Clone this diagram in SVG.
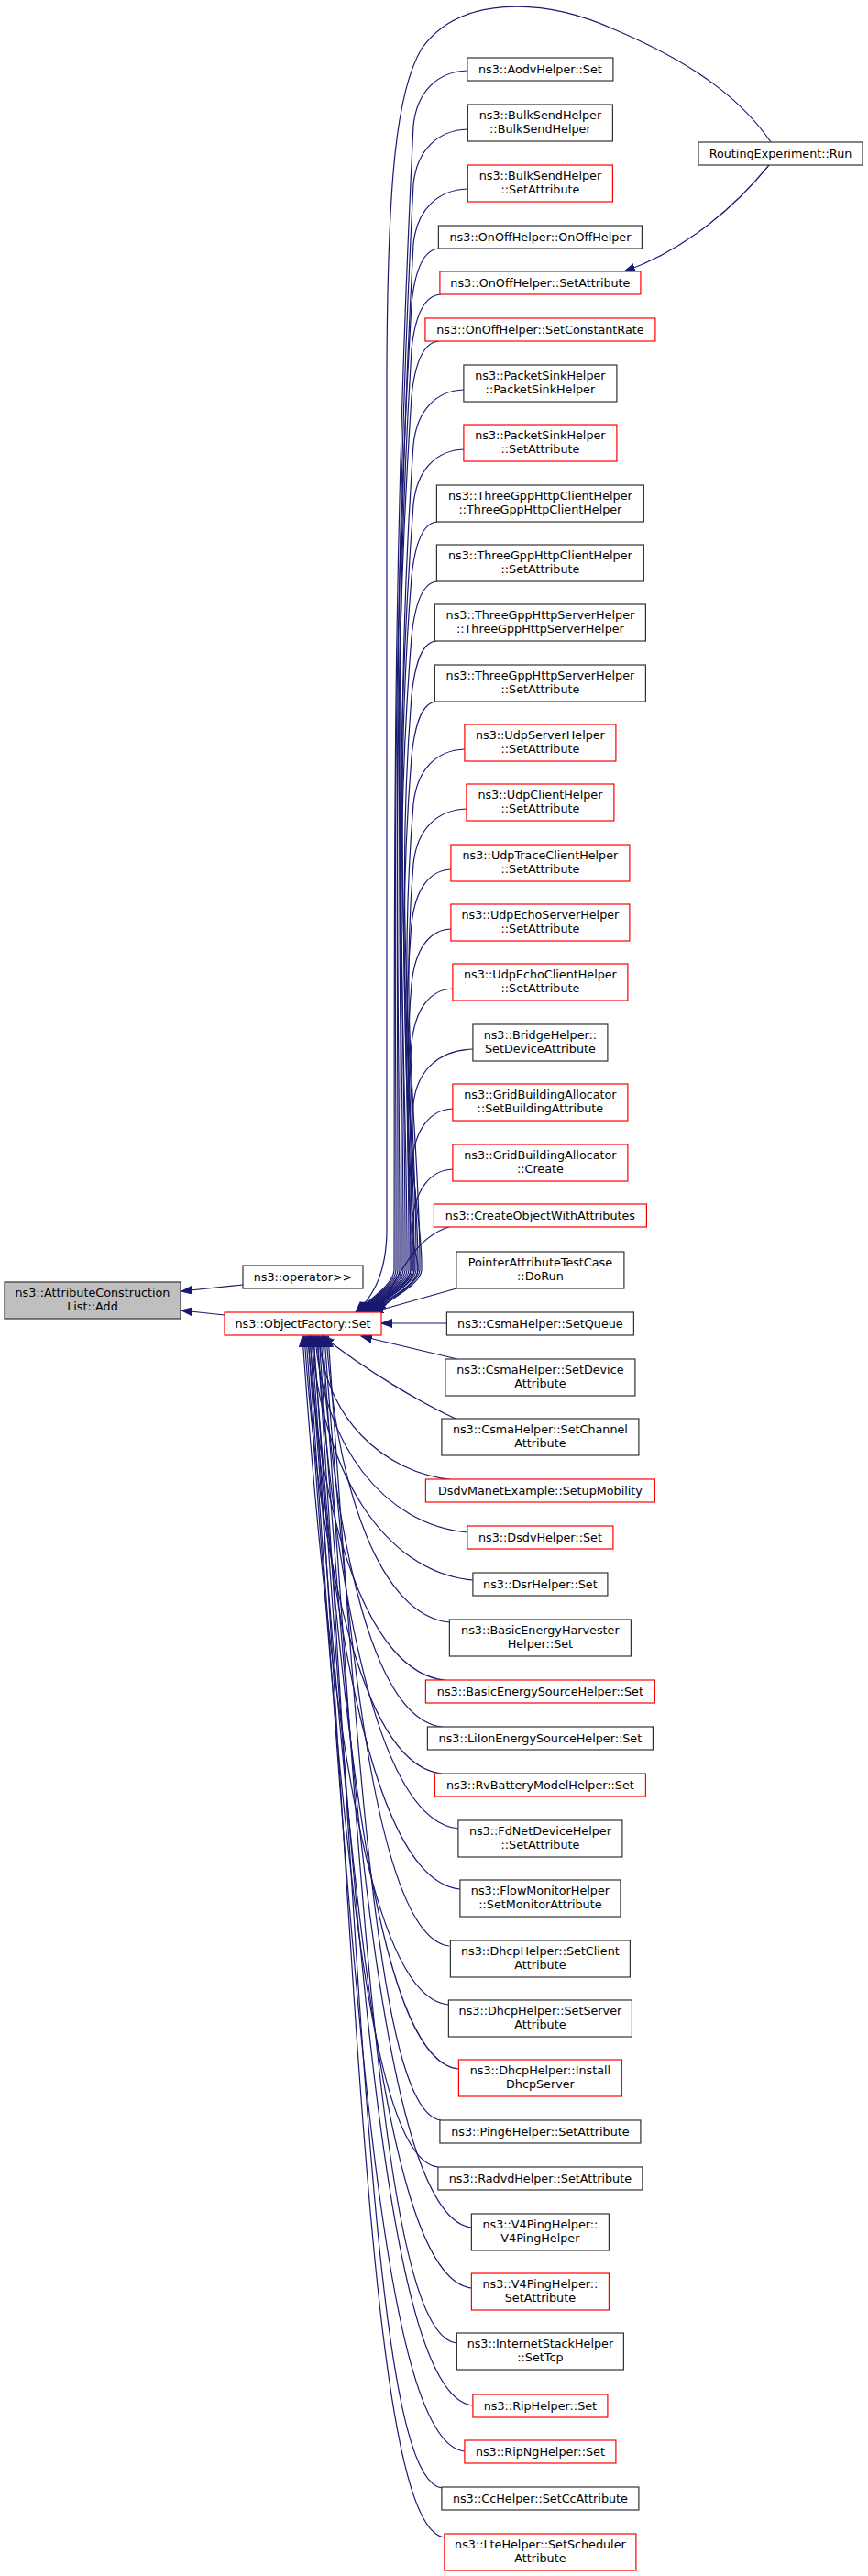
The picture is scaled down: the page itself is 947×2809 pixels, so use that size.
<svg xmlns="http://www.w3.org/2000/svg" width="947" height="2809" viewBox="0 0 947 2809">
<style>
.n rect{fill:#fff;stroke:#333;stroke-width:1.2}
.r rect{fill:#fff;stroke:#f00;stroke-width:1.2}
.g rect{fill:#bfbfbf;stroke:#333;stroke-width:1.2}
text{font-family:"DejaVu Sans",sans-serif;font-size:12.75px;fill:#000;text-anchor:middle}
#edges path{fill:none;stroke:#191970;stroke-width:1.2;marker-end:url(#ah)}
</style>
<defs>
<marker id="ah" markerUnits="userSpaceOnUse" markerWidth="14" markerHeight="11" refX="12" refY="4.5" orient="auto">
<path d="M0,0 L12,4.5 L0,9 z" fill="#191970" stroke="#191970" stroke-width="1"/>
</marker>
</defs>
<rect width="947" height="2809" fill="#fff"/>
<g id="edges">
<path d="M265,1401 L198,1408"/>
<path d="M245,1434 L198,1429"/>
<path d="M841,155 C810,110 760,70 670,32 C590,-4 500,-4 460,53 C432,100 423,200 422,400 L422,1340 C422,1395 402,1418 389,1431"/>
<path d="M839,180 C805,222 750,272 681,296"/>
<path d="M510,77 C478,78 455,99 451,137 C426,636 431,1011 430,1385 C429,1402 400,1419 388,1431"/>
<path d="M510,141 C478,142 455,163 451,201 C426,675 435,1030 434,1385 C433,1402 402,1419 390,1431"/>
<path d="M510,206 C478,207 455,228 451,266 C426,714 439,1049 438,1385 C437,1402 404,1419 392,1431"/>
<path d="M479,271 C463,272 453,293 449,331 C424,753 433,1069 432,1385 C431,1402 401,1419 389,1431"/>
<path d="M481,321 C463,322 453,343 449,381 C424,783 443,1084 442,1385 C441,1402 406,1419 394,1431"/>
<path d="M479,372 C463,373 453,394 449,432 C424,813 437,1099 436,1385 C435,1402 403,1419 391,1431"/>
<path d="M506,425 C476,426 455,447 451,485 C426,845 447,1115 446,1385 C445,1402 408,1419 396,1431"/>
<path d="M506,490 C476,491 455,512 451,550 C426,884 441,1134 440,1385 C439,1402 405,1419 393,1431"/>
<path d="M477,569 C462,570 453,591 449,629 C425,931 451,1158 450,1385 C449,1402 410,1419 398,1431"/>
<path d="M477,634 C462,635 453,656 449,694 C427,970 445,1178 444,1385 C443,1402 407,1419 395,1431"/>
<path d="M476,699 C461,700 453,721 449,759 C429,1009 455,1197 454,1385 C453,1402 412,1419 400,1431"/>
<path d="M476,765 C461,766 453,787 449,825 C431,1049 449,1217 448,1385 C447,1402 409,1419 397,1431"/>
<path d="M507,817 C476,818 455,839 451,877 C434,1080 453,1233 452,1385 C451,1402 414,1419 402,1431"/>
<path d="M509,882 C477,883 455,904 451,942 C436,1119 459,1252 458,1385 C457,1402 416,1419 404,1431"/>
<path d="M492,948 C468,949 453,970 449,1008 C436,1159 451,1272 450,1385 C449,1402 411,1419 399,1431"/>
<path d="M492,1013 C468,1014 453,1035 449,1073 C438,1198 457,1291 456,1385 C455,1402 418,1419 406,1431"/>
<path d="M494,1078 C469,1079 453,1100 449,1138 C440,1237 449,1311 448,1385 C447,1402 413,1419 401,1431"/>
<path d="M516,1144 C480,1145 455,1166 451,1204 C444,1276 461,1331 460,1385 C459,1402 420,1419 408,1431"/>
<path d="M494,1209 C469,1210 453,1231 449,1269 C447,1315 453,1350 452,1385 C451,1402 415,1419 403,1431"/>
<path d="M494,1275 C469,1276 453,1297 449,1335 C447,1355 457,1370 456,1385 C455,1402 422,1419 410,1431"/>
<path d="M490,1338 C459,1347 442,1375 412,1431"/>
<path d="M498,1405 L406,1431"/>
<path d="M487,1443 L416,1443"/>
<path d="M499,1482 L394,1457"/>
<path d="M497,1547 C460,1530 400,1495 352,1457"/>
<path d="M496,1614 C415,1606 354,1543 348,1457"/>
<path d="M510,1671 C419,1663 352,1575 344,1457"/>
<path d="M516,1723 C419,1715 350,1603 340,1457"/>
<path d="M490,1769 C416,1761 368,1629 356,1457"/>
<path d="M485,1832 C403,1824 350,1663 336,1457"/>
<path d="M482,1883 C409,1875 366,1691 350,1457"/>
<path d="M482,1934 C400,1926 350,1719 332,1457"/>
<path d="M500,1994 C415,1986 367,1752 346,1457"/>
<path d="M502,2060 C412,2052 361,1789 338,1457"/>
<path d="M490,2122 C415,2114 380,1823 354,1457"/>
<path d="M489,2186 C402,2178 358,1858 330,1457"/>
<path d="M500,2256 C413,2248 373,1896 342,1457"/>
<path d="M481,2312 C413,2304 391,1927 358,1457"/>
<path d="M478,2363 C399,2355 369,1955 334,1457"/>
<path d="M515,2429 C423,2421 385,1992 348,1457"/>
<path d="M515,2495 C418,2487 378,2028 338,1457"/>
<path d="M498,2555 C418,2547 394,2061 352,1457"/>
<path d="M516,2623 C420,2615 387,2098 342,1457"/>
<path d="M507,2673 C413,2665 383,2126 336,1457"/>
<path d="M482,2713 C407,2705 394,2148 346,1457"/>
<path d="M485,2767 C405,2759 390,2178 340,1457"/>
</g>
<g id="node-add" class="g"><rect x="5" y="1398" width="192" height="40"/><text x="101" y="1414.3">ns3::AttributeConstruction</text><text x="101" y="1429">List::Add</text></g>
<g id="node-opr" class="n"><rect x="265" y="1380" width="131" height="25"/><text x="330.5" y="1397">ns3::operator&gt;&gt;</text></g>
<g id="node-of" class="r"><rect x="245" y="1431" width="171" height="25"/><text x="330.5" y="1448">ns3::ObjectFactory::Set</text></g>
<g id="node-run" class="n"><rect x="762" y="155" width="179" height="25"/><text x="851.5" y="172">RoutingExperiment::Run</text></g>
<g id="node-aodv" class="n"><rect x="509.9" y="63" width="159" height="25"/><text x="589.4" y="80">ns3::AodvHelper::Set</text></g>
<g id="node-bulk1" class="n"><rect x="510.4" y="114" width="158" height="40"/><text x="589.4" y="130.3">ns3::BulkSendHelper</text><text x="589.4" y="145">::BulkSendHelper</text></g>
<g id="node-bulk2" class="r"><rect x="510.4" y="180" width="158" height="40"/><text x="589.4" y="196.3">ns3::BulkSendHelper</text><text x="589.4" y="211">::SetAttribute</text></g>
<g id="node-onoff1" class="n"><rect x="478.4" y="246" width="222" height="25"/><text x="589.4" y="263">ns3::OnOffHelper::OnOffHelper</text></g>
<g id="node-onoff2" class="r"><rect x="479.9" y="296" width="219" height="25"/><text x="589.4" y="313">ns3::OnOffHelper::SetAttribute</text></g>
<g id="node-onoff3" class="r"><rect x="463.9" y="347" width="251" height="25"/><text x="589.4" y="364">ns3::OnOffHelper::SetConstantRate</text></g>
<g id="node-psink1" class="n"><rect x="505.9" y="398" width="167" height="40"/><text x="589.4" y="414.3">ns3::PacketSinkHelper</text><text x="589.4" y="429">::PacketSinkHelper</text></g>
<g id="node-psink2" class="r"><rect x="505.9" y="463" width="167" height="40"/><text x="589.4" y="479.3">ns3::PacketSinkHelper</text><text x="589.4" y="494">::SetAttribute</text></g>
<g id="node-tgc1" class="n"><rect x="476.4" y="529" width="226" height="40"/><text x="589.4" y="545.3">ns3::ThreeGppHttpClientHelper</text><text x="589.4" y="560">::ThreeGppHttpClientHelper</text></g>
<g id="node-tgc2" class="n"><rect x="476.4" y="594" width="226" height="40"/><text x="589.4" y="610.3">ns3::ThreeGppHttpClientHelper</text><text x="589.4" y="625">::SetAttribute</text></g>
<g id="node-tgs1" class="n"><rect x="474.4" y="659" width="230" height="40"/><text x="589.4" y="675.3">ns3::ThreeGppHttpServerHelper</text><text x="589.4" y="690">::ThreeGppHttpServerHelper</text></g>
<g id="node-tgs2" class="n"><rect x="474.4" y="725" width="230" height="40"/><text x="589.4" y="741.3">ns3::ThreeGppHttpServerHelper</text><text x="589.4" y="756">::SetAttribute</text></g>
<g id="node-udps" class="r"><rect x="506.9" y="790" width="165" height="40"/><text x="589.4" y="806.3">ns3::UdpServerHelper</text><text x="589.4" y="821">::SetAttribute</text></g>
<g id="node-udpc" class="r"><rect x="508.9" y="855" width="161" height="40"/><text x="589.4" y="871.3">ns3::UdpClientHelper</text><text x="589.4" y="886">::SetAttribute</text></g>
<g id="node-udpt" class="r"><rect x="491.9" y="921" width="195" height="40"/><text x="589.4" y="937.3">ns3::UdpTraceClientHelper</text><text x="589.4" y="952">::SetAttribute</text></g>
<g id="node-udpes" class="r"><rect x="491.9" y="986" width="195" height="40"/><text x="589.4" y="1002.3">ns3::UdpEchoServerHelper</text><text x="589.4" y="1017">::SetAttribute</text></g>
<g id="node-udpec" class="r"><rect x="493.9" y="1051" width="191" height="40"/><text x="589.4" y="1067.3">ns3::UdpEchoClientHelper</text><text x="589.4" y="1082">::SetAttribute</text></g>
<g id="node-bridge" class="n"><rect x="515.9" y="1117" width="147" height="40"/><text x="589.4" y="1133.3">ns3::BridgeHelper::</text><text x="589.4" y="1148">SetDeviceAttribute</text></g>
<g id="node-grid1" class="r"><rect x="493.9" y="1182" width="191" height="40"/><text x="589.4" y="1198.3">ns3::GridBuildingAllocator</text><text x="589.4" y="1213">::SetBuildingAttribute</text></g>
<g id="node-grid2" class="r"><rect x="493.9" y="1248" width="191" height="40"/><text x="589.4" y="1264.3">ns3::GridBuildingAllocator</text><text x="589.4" y="1279">::Create</text></g>
<g id="node-cowa" class="r"><rect x="473.4" y="1313" width="232" height="25"/><text x="589.4" y="1330">ns3::CreateObjectWithAttributes</text></g>
<g id="node-pointer" class="n"><rect x="497.9" y="1365" width="183" height="40"/><text x="589.4" y="1381.3">PointerAttributeTestCase</text><text x="589.4" y="1396">::DoRun</text></g>
<g id="node-csmaq" class="n"><rect x="487.4" y="1431" width="204" height="25"/><text x="589.4" y="1448">ns3::CsmaHelper::SetQueue</text></g>
<g id="node-csmad" class="n"><rect x="485.9" y="1482" width="207" height="40"/><text x="589.4" y="1498.3">ns3::CsmaHelper::SetDevice</text><text x="589.4" y="1513">Attribute</text></g>
<g id="node-csmach" class="n"><rect x="481.9" y="1547" width="215" height="40"/><text x="589.4" y="1563.3">ns3::CsmaHelper::SetChannel</text><text x="589.4" y="1578">Attribute</text></g>
<g id="node-dsdvm" class="r"><rect x="464.4" y="1613" width="250" height="25"/><text x="589.4" y="1630">DsdvManetExample::SetupMobility</text></g>
<g id="node-dsdv" class="r"><rect x="509.9" y="1664" width="159" height="25"/><text x="589.4" y="1681">ns3::DsdvHelper::Set</text></g>
<g id="node-dsr" class="n"><rect x="515.9" y="1715" width="147" height="25"/><text x="589.4" y="1732">ns3::DsrHelper::Set</text></g>
<g id="node-beh" class="n"><rect x="490.4" y="1766" width="198" height="40"/><text x="589.4" y="1782.3">ns3::BasicEnergyHarvester</text><text x="589.4" y="1797">Helper::Set</text></g>
<g id="node-bes" class="r"><rect x="464.4" y="1832" width="250" height="25"/><text x="589.4" y="1849">ns3::BasicEnergySourceHelper::Set</text></g>
<g id="node-liion" class="n"><rect x="466.4" y="1883" width="246" height="25"/><text x="589.4" y="1900">ns3::LiIonEnergySourceHelper::Set</text></g>
<g id="node-rv" class="r"><rect x="474.4" y="1934" width="230" height="25"/><text x="589.4" y="1951">ns3::RvBatteryModelHelper::Set</text></g>
<g id="node-fd" class="n"><rect x="499.9" y="1985" width="179" height="40"/><text x="589.4" y="2001.3">ns3::FdNetDeviceHelper</text><text x="589.4" y="2016">::SetAttribute</text></g>
<g id="node-flow" class="n"><rect x="501.9" y="2050" width="175" height="40"/><text x="589.4" y="2066.3">ns3::FlowMonitorHelper</text><text x="589.4" y="2081">::SetMonitorAttribute</text></g>
<g id="node-dhcpc" class="n"><rect x="491.4" y="2116" width="196" height="40"/><text x="589.4" y="2132.3">ns3::DhcpHelper::SetClient</text><text x="589.4" y="2147">Attribute</text></g>
<g id="node-dhcps" class="n"><rect x="489.4" y="2181" width="200" height="40"/><text x="589.4" y="2197.3">ns3::DhcpHelper::SetServer</text><text x="589.4" y="2212">Attribute</text></g>
<g id="node-dhcpi" class="r"><rect x="500.4" y="2246" width="178" height="40"/><text x="589.4" y="2262.3">ns3::DhcpHelper::Install</text><text x="589.4" y="2277">DhcpServer</text></g>
<g id="node-ping6" class="n"><rect x="479.9" y="2312" width="219" height="25"/><text x="589.4" y="2329">ns3::Ping6Helper::SetAttribute</text></g>
<g id="node-radvd" class="n"><rect x="477.9" y="2363" width="223" height="25"/><text x="589.4" y="2380">ns3::RadvdHelper::SetAttribute</text></g>
<g id="node-v4p1" class="n"><rect x="514.4" y="2414" width="150" height="40"/><text x="589.4" y="2430.3">ns3::V4PingHelper::</text><text x="589.4" y="2445">V4PingHelper</text></g>
<g id="node-v4p2" class="r"><rect x="514.4" y="2479" width="150" height="40"/><text x="589.4" y="2495.3">ns3::V4PingHelper::</text><text x="589.4" y="2510">SetAttribute</text></g>
<g id="node-inet" class="n"><rect x="498.4" y="2544" width="182" height="40"/><text x="589.4" y="2560.3">ns3::InternetStackHelper</text><text x="589.4" y="2575">::SetTcp</text></g>
<g id="node-rip" class="r"><rect x="515.9" y="2611" width="147" height="25"/><text x="589.4" y="2628">ns3::RipHelper::Set</text></g>
<g id="node-ripng" class="r"><rect x="506.9" y="2661" width="165" height="25"/><text x="589.4" y="2678">ns3::RipNgHelper::Set</text></g>
<g id="node-cc" class="n"><rect x="481.9" y="2712" width="215" height="25"/><text x="589.4" y="2729">ns3::CcHelper::SetCcAttribute</text></g>
<g id="node-lte" class="r"><rect x="484.9" y="2763" width="209" height="40"/><text x="589.4" y="2779.3">ns3::LteHelper::SetScheduler</text><text x="589.4" y="2794">Attribute</text></g>
</svg>
